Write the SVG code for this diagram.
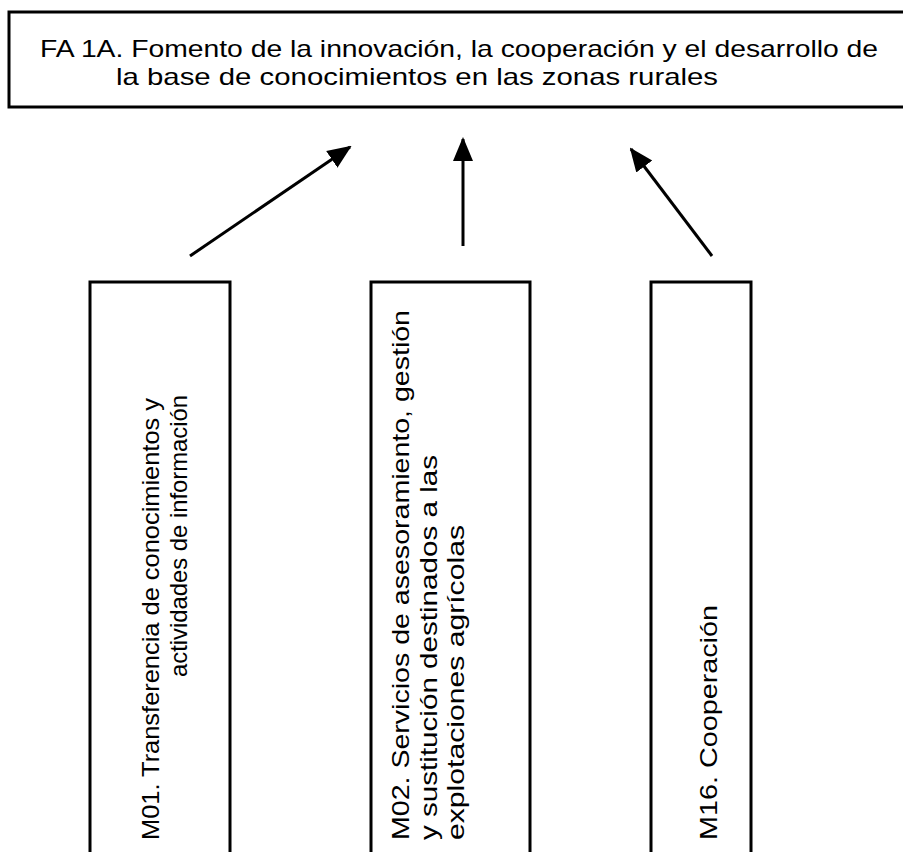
<svg xmlns="http://www.w3.org/2000/svg" width="903" height="852" viewBox="0 0 903 852">
<defs>
<style>
.box{fill:#fff;stroke:#000;stroke-width:3}
.t{font-family:"Liberation Sans",Arial,sans-serif;font-size:24px;fill:#000}
.c{stroke:#000;stroke-width:3;fill:none}
</style>
<marker id="ah" markerUnits="userSpaceOnUse" markerWidth="24" markerHeight="24" viewBox="0 0 24 24" refX="22" refY="12" orient="auto">
<path d="M0,2 L24,12 L0,22 Z" fill="#000"/>
</marker>
</defs>
<rect width="903" height="852" fill="#fff"/>
<g id="fa1a">
<rect class="box" x="9" y="12" width="900" height="95"/>
<text class="t" x="40" y="57" textLength="838" lengthAdjust="spacingAndGlyphs">FA 1A. Fomento de la innovación, la cooperación y el desarrollo de</text>
<text class="t" x="116" y="85" textLength="602" lengthAdjust="spacingAndGlyphs">la base de conocimientos en las zonas rurales</text>
</g>
<g id="m01">
<rect class="box" x="90" y="282" width="140" height="600"/>
<text class="t" transform="translate(159,840) rotate(-90)" x="0" y="0" textLength="442" lengthAdjust="spacingAndGlyphs">M01. Transferencia de conocimientos y</text>
<text class="t" transform="translate(187,677) rotate(-90)" x="0" y="0" textLength="282" lengthAdjust="spacingAndGlyphs">actividades de información</text>
</g>
<g id="m02">
<rect class="box" x="371" y="282" width="159" height="600"/>
<text class="t" transform="translate(409,840) rotate(-90)" x="0" y="0" textLength="530" lengthAdjust="spacingAndGlyphs">M02. Servicios de asesoramiento, gestión</text>
<text class="t" transform="translate(437,840) rotate(-90)" x="0" y="0" textLength="385" lengthAdjust="spacingAndGlyphs">y sustitución destinados a las</text>
<text class="t" transform="translate(464,840) rotate(-90)" x="0" y="0" textLength="315" lengthAdjust="spacingAndGlyphs">explotaciones agrícolas</text>
</g>
<g id="m16">
<rect class="box" x="651" y="282" width="100" height="600"/>
<text class="t" transform="translate(717,840) rotate(-90)" x="0" y="0" textLength="235" lengthAdjust="spacingAndGlyphs">M16. Cooperación</text>
</g>
<g id="connectors">
<line class="c" x1="190" y1="256" x2="350" y2="147" marker-end="url(#ah)"/>
<line class="c" x1="463" y1="246" x2="463" y2="139" marker-end="url(#ah)"/>
<line class="c" x1="712" y1="256" x2="631" y2="149" marker-end="url(#ah)"/>
</g>
</svg>
